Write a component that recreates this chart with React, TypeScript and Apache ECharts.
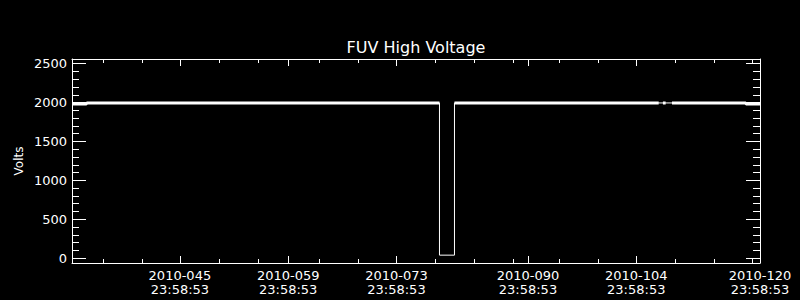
import React, { useEffect, useRef } from "react";
import * as echarts from "echarts";

const X_MIN = 32.05;
const X_MAX = 121.0;
const Y_MIN = -63;
const Y_MAX = 2560;

const majorDays = [45.999, 59.999, 73.999, 90.999, 104.999, 120.999];
const dateLabels = ["2010-045", "2010-059", "2010-073", "2010-090", "2010-104", "2010-120"];
const timeLabels = ["23:58:53", "23:58:53", "23:58:53", "23:58:53", "23:58:53", "23:58:53"];
const minorDays = [36.1, 41.14, 51.15, 56.14, 64.02, 69.06, 79.02, 84.06, 89.1, 95.05, 100.09, 110.05, 115.09, 120.0];

const voltMajor = [0, 500, 1000, 1500, 2000, 2500];
const voltMinor = [0, 100, 200, 300, 400, 500, 600, 700, 800, 900, 1000, 1100, 1200, 1300, 1400, 1500, 1600, 1700, 1800, 1900, 2000, 2100, 2200, 2300, 2400, 2500];

// thin full-resolution trace (shows the HV drop)
const traceDays = [32.05, 79.56, 79.56, 81.5, 81.5, 121.0];
const traceVolts = [1995, 1995, 38, 38, 1995, 1995];

// dense-sample envelope of the nominal voltage (thick band)
const bandDays = [32.05, 33.9, 34.0, 79.56, 79.6, 81.5, 107.9, 108.0, 108.45, 108.8, 108.9, 109.62, 119.15, 119.2, 121.0];
const bandVolts = [1982, 1982, 1995, 1995, null, 1995, 1995, null, 1995, 1995, null, 1995, 1995, 1982, 1982];

const WHITE = "#ffffff";
const FONT = "DejaVu Sans";

function xAxisDef(position: string, ticks: number[], len: number, showLine: boolean, showLabels: boolean) {
  return {
    type: "value",
    position,
    min: X_MIN,
    max: X_MAX,
    axisLine: { show: showLine, onZero: false, lineStyle: { color: WHITE, width: 1 } },
    axisTick: { show: true, inside: true, length: len, customValues: ticks, lineStyle: { color: WHITE, width: 1 } },
    axisLabel: showLabels
      ? {
          show: true,
          customValues: ticks,
          color: WHITE,
          fontFamily: FONT,
          fontSize: 13,
          lineHeight: 14.5,
          margin: 5,
          formatter: (v: number) => {
            let idx = 0;
            let best = Infinity;
            majorDays.forEach((d, i) => {
              if (Math.abs(d - v) < best) {
                best = Math.abs(d - v);
                idx = i;
              }
            });
            return dateLabels[idx] + "\n" + timeLabels[idx];
          },
        }
      : { show: false },
    splitLine: { show: false },
    minorTick: { show: false },
  };
}

function yAxisDef(position: string, ticks: number[], len: number, showLine: boolean, showLabels: boolean) {
  return {
    type: "value",
    position,
    min: Y_MIN,
    max: Y_MAX,
    axisLine: { show: showLine, onZero: false, lineStyle: { color: WHITE, width: 1 } },
    axisTick: { show: true, inside: true, length: len, customValues: ticks, lineStyle: { color: WHITE, width: 1 } },
    axisLabel: showLabels
      ? {
          show: true,
          customValues: ticks,
          color: WHITE,
          fontFamily: FONT,
          fontSize: 13,
          margin: 5,
          formatter: (v: number) => String(Math.round(v)),
        }
      : { show: false },
    splitLine: { show: false },
    minorTick: { show: false },
  };
}

export default function App() {
  const ref = useRef<HTMLDivElement>(null);

  useEffect(() => {
    document.body.style.margin = "0";
    document.body.style.background = "#000";
    if (!ref.current) return;
    const chart = echarts.init(ref.current, undefined, { renderer: "svg" });

    const trace = traceDays.map((d, i) => [d, traceVolts[i]]);
    const band = bandDays.map((d, i) => [d, bandVolts[i] === null ? "-" : bandVolts[i]]);

    chart.setOption({
      animation: false,
      backgroundColor: "#000000",
      grid: { left: 72, right: 40, top: 59, bottom: 37, containLabel: false, outerBoundsMode: "none" },
      xAxis: [
        xAxisDef("bottom", majorDays, 7, true, true),
        xAxisDef("bottom", minorDays, 4, false, false),
        xAxisDef("top", majorDays, 7, true, false),
        xAxisDef("top", minorDays, 4, false, false),
      ],
      yAxis: [
        yAxisDef("left", voltMajor, 14, true, true),
        yAxisDef("left", voltMinor, 7, false, false),
        yAxisDef("right", voltMajor, 14, true, false),
        yAxisDef("right", voltMinor, 7, false, false),
      ],
      graphic: [
        {
          type: "text",
          x: 416,
          y: 47,
          style: {
            text: "FUV High Voltage",
            fill: WHITE,
            font: `16px "${FONT}"`,
            align: "center",
            verticalAlign: "middle",
          },
        },
        {
          type: "text",
          x: 19,
          y: 161,
          rotation: Math.PI / 2,
          style: {
            text: "Volts",
            fill: WHITE,
            font: `12px "${FONT}"`,
            align: "center",
            verticalAlign: "middle",
          },
        },
      ],
      series: [
        {
          name: "trace",
          type: "line",
          xAxisIndex: 0,
          yAxisIndex: 0,
          data: trace,
          showSymbol: false,
          symbol: "none",
          lineStyle: { color: WHITE, width: 1 },
          clip: true,
        },
        {
          name: "band",
          type: "line",
          xAxisIndex: 0,
          yAxisIndex: 0,
          data: band,
          showSymbol: false,
          symbol: "none",
          connectNulls: false,
          lineStyle: { color: WHITE, width: 3 },
          clip: true,
        },
      ],
    });

    return () => chart.dispose();
  }, []);

  return <div ref={ref} style={{ width: 800, height: 300 }} />;
}
